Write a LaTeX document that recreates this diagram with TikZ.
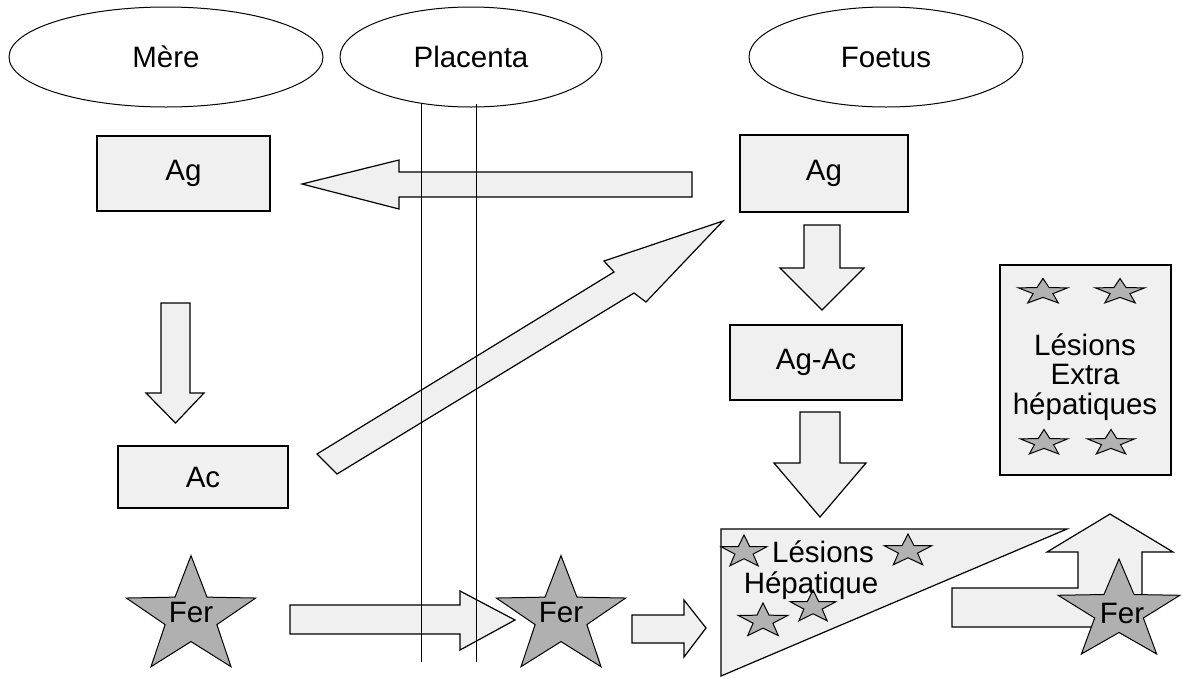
\documentclass[tikz,border=0pt]{standalone}
\usepackage{fontspec}
\setmainfont{Liberation Sans}
\usetikzlibrary{shapes.geometric}
\tikzset{
  lbl/.style={font=\fontsize{29.5}{29.5}\selectfont, inner sep=0pt, align=center},
  oval/.style={ellipse, draw, line width=1pt, lbl},
  boxnode/.style={rectangle, draw, line width=1.2pt, fill=gray!12, lbl},
  blockarrow/.style={draw, line width=1.2pt, fill=gray!12, line join=miter},
  starfill/.style={draw, line width=1pt, fill=gray!62, line join=miter},
  smallstar/.style={draw, line width=1pt, fill=gray!60, line join=miter},
  plac/.style={draw, line width=0.9pt},
}
% #1 style, #2 cx, #3 cy, #4 rx, #5 ry
\newcommand{\mystar}[5]{%
  \draw[#1, shift={(#2,#3)}] (270:#4 and #5)
    \foreach \a/\f in {306/0.4,342/1,18/0.4,54/1,90/0.4,126/1,162/0.4,198/1,234/0.4}
      { -- (\a:{#4*\f} and {#5*\f}) } -- cycle;}
\begin{document}
\begin{tikzpicture}[x=1pt,y=-1pt]
\useasboundingbox (0,0) rectangle (1183,678);

% column headers
\node[oval, minimum width=314pt, minimum height=100pt] (mere) at (166,57) {Mère};
\node[oval, minimum width=262pt, minimum height=100pt] (placenta) at (471,57) {Placenta};
\node[oval, minimum width=274pt, minimum height=100pt] (foetus) at (886,57) {Foetus};

% boxes
\node[boxnode, minimum width=173pt, minimum height=75pt] (agM) at (183.5,173.5) {Ag};
\node[boxnode, minimum width=168pt, minimum height=77pt] (agF) at (824,173.5) {Ag};
\node[boxnode, minimum width=172pt, minimum height=75pt] (agac) at (816,362.5) {Ag-Ac};
\node[boxnode, minimum width=170pt, minimum height=62pt] (ac) at (203,477) {Ac};
\node[boxnode, minimum width=171pt, minimum height=210pt] (extra) at (1085.5,370) {};
\node[lbl] (extratxt) at (1085,377) {Lésions\\Extra\\hépatiques};
\mystar{smallstar}{1043}{292}{26}{13.5}
\mystar{smallstar}{1120}{292}{26}{13.5}
\mystar{smallstar}{1044}{443}{25}{13.5}
\mystar{smallstar}{1111}{443}{25}{13.5}

% arrow anchors
\coordinate (lTail) at (692,184.5);
\coordinate (lTip) at (302,184);
% left arrow: foetus Ag -> mother Ag
\draw[blockarrow] (lTip) -- (399,160) -- (399,172) -- (692,172) -- (692,197)
  -- (399,197) -- (399,209) -- cycle;
% down arrow mother Ag -> Ac
\draw[blockarrow] (161,303) -- (190,303) -- (190,393) -- (204,393) -- (175.5,423)
  -- (146,393) -- (161,393) -- cycle;
% diagonal arrow Ac -> foetus Ag
\coordinate (dTip) at (723,221);
\draw[blockarrow] (317,454) -- (614,272) -- (604,261) -- (dTip) -- (646,302)
  -- (634,293) -- (337,474) -- cycle;
% down arrow foetus Ag -> Ag-Ac
\draw[blockarrow] (804,225) -- (840,225) -- (840,268) -- (864,268) -- (822,310)
  -- (780,268) -- (804,268) -- cycle;
% down arrow Ag-Ac -> lesions
\draw[blockarrow] (800,412) -- (840,412) -- (840,463) -- (866,463) -- (820,517)
  -- (774,463) -- (800,463) -- cycle;

% hepatic lesions triangle
\coordinate (t1) at (721,529);
\coordinate (t2) at (1067,529);
\coordinate (t3) at (721,676);
\draw[blockarrow] (t1) -- (t2) -- (t3) -- cycle;
\mystar{smallstar}{744}{552}{24}{17}
\mystar{smallstar}{908}{551}{25}{17}
\mystar{smallstar}{763}{621}{26}{18}
\mystar{smallstar}{813}{607}{24}{17}
\node[lbl] (les1) at (823,552) {Lésions};
\node[lbl] (les2) at (811,586) {Hépatique};

% bottom arrows
\draw[blockarrow] (290,605) -- (460,605) -- (460,591) -- (515,620) -- (460,650)
  -- (460,634) -- (290,634) -- cycle;
\draw[blockarrow] (632,615) -- (684,615) -- (684,600) -- (706,628) -- (684,657)
  -- (684,643) -- (632,643) -- cycle;
% bent arrow up
\draw[blockarrow] (952,588) -- (1078,588) -- (1078,552) -- (1047,552) -- (1110,514)
  -- (1173,552) -- (1142,552) -- (1142,627) -- (952,627) -- cycle;

% iron stars
\mystar{starfill}{191}{617}{68}{61.4}
\node[lbl] (fer1) at (191,612) {Fer};
\mystar{starfill}{561}{617}{68}{61.4}
\node[lbl] (fer2) at (561,612) {Fer};
\mystar{starfill}{1119}{611.5}{64}{52.5}
\node[lbl] (fer3) at (1122,613) {Fer};

% placenta barrier lines
\draw[plac] (421,103) -- (421,662);
\draw[plac] (476,104) -- (476,662);
\end{tikzpicture}
\end{document}
